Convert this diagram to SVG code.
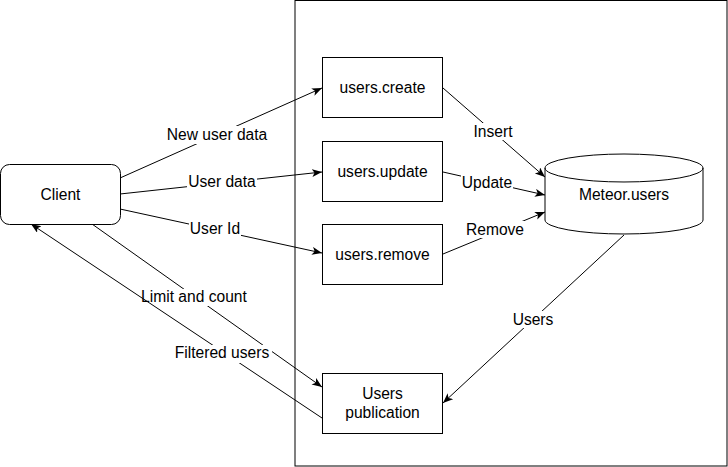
<svg xmlns="http://www.w3.org/2000/svg" width="728" height="467" viewBox="0 0 728 467">
<style>
.n{fill:#fff;stroke:#000;stroke-width:1}
.t{font-family:"Liberation Sans",Arial,sans-serif;font-size:15.6px;fill:#000;text-anchor:middle}
.e{fill:none;stroke:#000;stroke-width:1}
.lb{fill:#fff}
</style>
<defs>
<marker id="arr" markerUnits="userSpaceOnUse" markerWidth="12" markerHeight="10" refX="10" refY="4" orient="auto">
<path d="M0,0 L10,4 L0,8 L2.5,4 Z" fill="#000"/>
</marker>
</defs>
<rect width="728" height="467" fill="#fff"/>
<g id="container"><rect x="295" y="0.5" width="432" height="465.5" fill="#fff" stroke="#000"/></g>
<g id="connectors">
<path class="e" d="M120,178 L322,88" marker-end="url(#arr)"/>
<rect class="lb" x="165" y="126" width="104" height="18"/>
<text class="t" x="217" y="140">New user data</text>
<path class="e" d="M120,194 L322,172" marker-end="url(#arr)"/>
<rect class="lb" x="187" y="174" width="70" height="17"/>
<text class="t" x="222" y="187">User data</text>
<path class="e" d="M120,209 L322,253" marker-end="url(#arr)"/>
<rect class="lb" x="189" y="221" width="52" height="17"/>
<text class="t" x="215" y="234">User Id</text>
<path class="e" d="M92,224 L322,387" marker-end="url(#arr)"/>
<rect class="lb" x="140" y="289" width="109" height="17"/>
<text class="t" x="194" y="302">Limit and count</text>
<path class="e" d="M322,418 L31,224" marker-end="url(#arr)"/>
<rect class="lb" x="173" y="345" width="99" height="18"/>
<text class="t" x="222" y="358">Filtered users</text>
<path class="e" d="M443,88 L545,177" marker-end="url(#arr)"/>
<rect class="lb" x="472" y="123" width="42" height="17"/>
<text class="t" x="493" y="137">Insert</text>
<path class="e" d="M443,172 L545,195" marker-end="url(#arr)"/>
<rect class="lb" x="461" y="175" width="52" height="18"/>
<text class="t" x="487" y="188">Update</text>
<path class="e" d="M443,254 L545,212" marker-end="url(#arr)"/>
<rect class="lb" x="465" y="221" width="60" height="17"/>
<text class="t" x="495" y="235">Remove</text>
<path class="e" d="M624,235 L443,403" marker-end="url(#arr)"/>
<rect class="lb" x="511" y="311" width="43" height="17"/>
<text class="t" x="533" y="325">Users</text>
</g>
<g id="client"><rect class="n" x="0.5" y="164.5" width="120" height="60" rx="9"/><text class="t" x="60.5" y="200">Client</text></g>
<g id="users-create"><rect class="n" x="322.5" y="57.5" width="120" height="60"/><text class="t" x="382.5" y="93">users.create</text></g>
<g id="users-update"><rect class="n" x="322.5" y="141.5" width="120" height="60"/><text class="t" x="382.5" y="177">users.update</text></g>
<g id="users-remove"><rect class="n" x="322.5" y="224.5" width="120" height="60"/><text class="t" x="382.5" y="260">users.remove</text></g>
<g id="users-publication"><rect class="n" x="322.5" y="373.5" width="120" height="60"/><text class="t" x="382.5" y="399">Users</text><text class="t" x="382.5" y="418">publication</text></g>
<g id="meteor-users">
<path class="n" d="M545,168 A79,14 0 0 1 703,168 V220 A79,14 0 0 1 545,220 Z"/>
<path class="e" d="M545,168 A79,14 0 0 0 703,168"/>
<text class="t" x="624" y="200">Meteor.users</text>
</g>
</svg>
